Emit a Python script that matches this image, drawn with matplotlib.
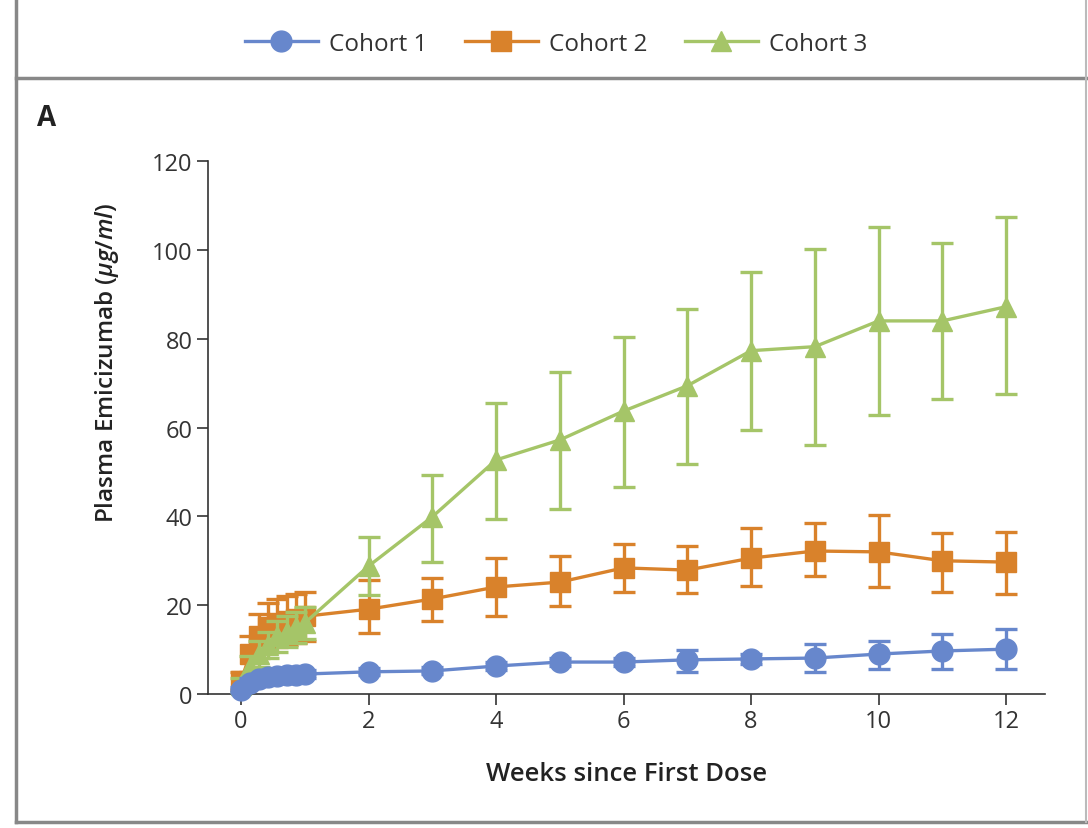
import matplotlib
matplotlib.use("Agg")
import matplotlib.pyplot as plt
from matplotlib.lines import Line2D

plt.rcParams['font.family'] = ['Open Sans', 'DejaVu Sans']
plt.rcParams['mathtext.fontset'] = 'custom'
plt.rcParams['mathtext.rm'] = 'Open Sans:semibold'
plt.rcParams['mathtext.it'] = 'Open Sans:italic:semibold'

# weeks since first dose (daily during week 1, then weekly)
weeks = [0, 1/7, 2/7, 3/7, 4/7, 5/7, 6/7, 1, 2, 3, 4, 5, 6, 7, 8, 9, 10, 11, 12]

cohort1 = [1.0, 2.5, 3.3, 3.8, 4.0, 4.2, 4.3, 4.5, 5.0, 5.2, 6.3, 7.2, 7.2, 7.7, 7.9, 8.1, 9.0, 9.7, 10.1]
cohort1_lo = [0.5, 1.0, 1.0, 1.0, 1.0, 1.0, 1.0, 1.0, 0.8, 0.8, 0.9, 1.0, 1.0, 2.7, 1.2, 3.1, 3.4, 4.1, 4.5]
cohort1_hi = [0.5, 1.0, 1.0, 1.0, 1.0, 1.0, 1.0, 1.0, 0.8, 0.8, 0.9, 1.0, 1.0, 2.2, 1.2, 3.2, 2.9, 3.8, 4.5]

cohort2 = [3.0, 9.0, 13.0, 15.0, 16.0, 16.5, 17.0, 17.5, 19.1, 21.4, 24.1, 25.2, 28.4, 27.9, 30.6, 32.2, 32.0, 30.0, 29.7]
cohort2_lo = [2.0, 4.0, 5.0, 5.5, 5.5, 5.5, 5.5, 5.5, 5.4, 5.0, 6.5, 5.4, 5.4, 5.2, 6.3, 5.6, 7.9, 7.0, 7.2]
cohort2_hi = [2.0, 4.0, 5.0, 5.5, 5.5, 5.5, 5.5, 5.5, 6.6, 4.7, 6.5, 5.9, 5.4, 5.4, 6.8, 6.3, 8.3, 6.3, 6.8]

cohort3 = [2.0, 6.0, 9.0, 11.0, 13.0, 14.0, 15.0, 16.0, 28.8, 39.9, 52.7, 57.2, 63.7, 69.4, 77.3, 78.2, 84.0, 84.0, 87.2]
cohort3_lo = [1.5, 2.5, 3.0, 3.0, 3.5, 3.5, 3.5, 3.5, 6.5, 10.2, 13.3, 15.5, 17.1, 17.6, 17.8, 22.1, 21.2, 17.6, 19.6]
cohort3_hi = [1.5, 2.5, 3.0, 3.0, 3.5, 3.5, 3.5, 3.5, 6.6, 9.4, 12.8, 15.3, 16.7, 17.3, 17.7, 22.0, 21.2, 17.6, 20.2]

labels = ['Cohort 1', 'Cohort 2', 'Cohort 3']
colors = ['#6787cc', '#d9822b', '#a5c568']
markers = ['o', 's', '^']
msizes = [15, 14, 15]

fig = plt.figure(figsize=(10.88, 8.29), dpi=100)
ax = fig.add_axes([0.1912, 0.1616, 0.7693, 0.643])

series = [
    (cohort1, cohort1_lo, cohort1_hi),
    (cohort2, cohort2_lo, cohort2_hi),
    (cohort3, cohort3_lo, cohort3_hi),
]
zorders = [6, 3, 4]
handles = []
for (vals, lo, hi), lab, col, mk, ms, z in zip(series, labels, colors, markers, msizes, zorders):
    ax.errorbar(weeks, vals, yerr=[lo, hi], color=col, marker=mk, markersize=ms,
                linewidth=2.4, elinewidth=2.4, capsize=8, capthick=2.4,
                label=lab, zorder=z, clip_on=False)
    handles.append(Line2D([0], [0], color=col, marker=mk, markersize=ms, linewidth=2.4))

ax.set_xlim(-0.518, 12.61)
ax.set_ylim(0, 120)
ax.set_xticks([0, 2, 4, 6, 8, 10, 12])
ax.set_yticks([0, 20, 40, 60, 80, 100, 120])
ax.spines['top'].set_visible(False)
ax.spines['right'].set_visible(False)
for s in ['left', 'bottom']:
    ax.spines[s].set_color('#333333')
    ax.spines[s].set_linewidth(1.2)
ax.tick_params(direction='out', length=8, width=1.2, color='#333333',
               labelsize=17, labelcolor='#333333', pad=3)

ax.set_xlabel('Weeks since First Dose', fontsize=18.5, fontweight='semibold', color='#222222')
ax.set_ylabel('Plasma Emicizumab ($\\mathit{\\mu g/ml}$)', fontsize=17.5,
              fontweight='semibold', color='#222222')
ax.xaxis.set_label_coords(0.50, -0.125)
ax.yaxis.set_label_coords(-0.104, 0.623)

fig.text(0.034, 0.857, 'A', fontsize=20, fontweight='bold', color='#222222', va='center')

fig.legend(handles, labels, loc='center', bbox_to_anchor=(0.511, 0.946), ncol=3,
           frameon=False, fontsize=17.5, handlelength=3.0, columnspacing=1.55,
           handletextpad=0.45, labelcolor='#333333')

# panel frame
frame_col = '#888888'
fig.add_artist(Line2D([0.0145, 0.0145], [0.007, 1.0], color=frame_col, linewidth=2.5))
fig.add_artist(Line2D([0.0145, 1.0], [0.007, 0.007], color=frame_col, linewidth=2.5))
fig.add_artist(Line2D([0.0145, 1.0], [0.905, 0.905], color=frame_col, linewidth=2.5))
fig.add_artist(Line2D([0.998, 0.998], [0.007, 1.0], color='#bbbbbb', linewidth=1.5))

fig.savefig('out.png', dpi=100)
